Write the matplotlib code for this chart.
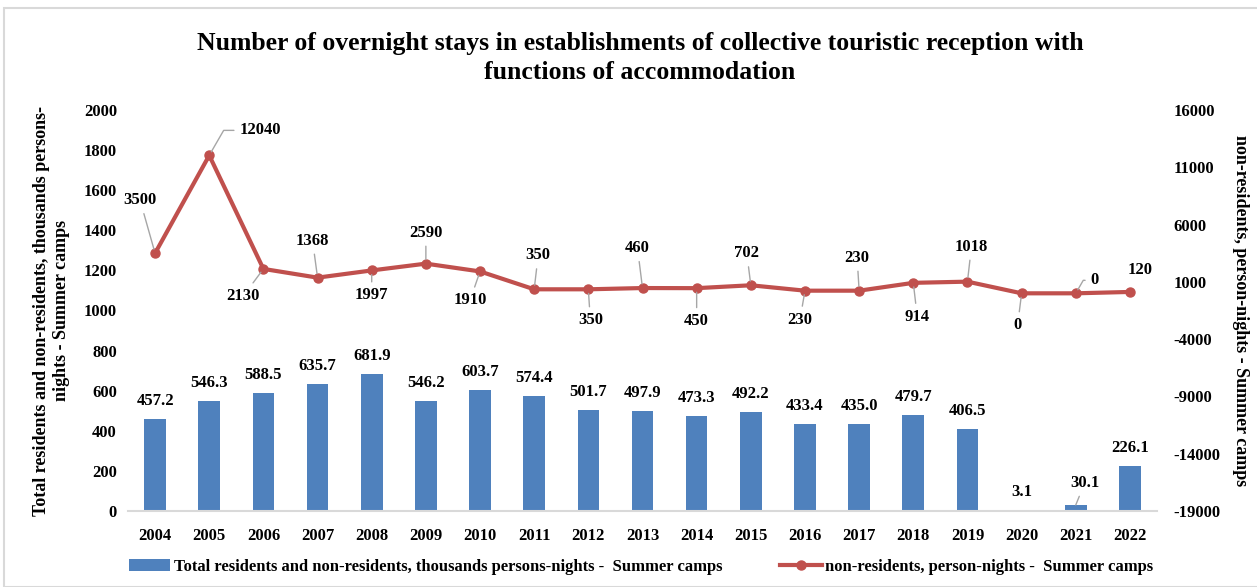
import matplotlib.pyplot as plt
import numpy as np
from matplotlib.patches import Rectangle

plt.rcParams['font.family'] = ['Liberation Serif', 'DejaVu Serif']
plt.rcParams['font.weight'] = 'bold'
plt.rcParams['axes.unicode_minus'] = False

years = [str(y) for y in range(2004, 2023)]
totals = [457.2, 546.3, 588.5, 635.7, 681.9, 546.2, 603.7, 574.4, 501.7, 497.9,
          473.3, 492.2, 433.4, 435.0, 479.7, 406.5, 3.1, 30.1, 226.1]
nonres = [3500, 12040, 2130, 1368, 1997, 2590, 1910, 350, 350, 460,
          450, 702, 230, 230, 914, 1018, 0, 0, 120]

# label offsets in pixels (dx, dy) for the line labels
line_off = [(-15, 53), (51, 25), (-20, -27), (-5, 37), (0, -25), (0, 31), (-10, -29),
            (4, 34), (2, -31), (-5, 40), (0, -33), (-4, 32), (-5, -29), (-2, 33),
            (4, -34), (4, 35), (-4, -32), (19, 13), (10, 22)]

blue = '#4F81BD'
red = '#C0504D'
grey = '#A6A6A6'

fig = plt.figure(figsize=(12.57, 5.87), dpi=100)
fig.patches.append(Rectangle((4 / 1257, 0), 1.1, 1 - 8 / 587, transform=fig.transFigure,
                             fill=False, edgecolor='#D9D9D9', lw=1.5, zorder=0))

ax = fig.add_axes([128 / 1257, 1 - 511 / 587, 1029 / 1257, 401 / 587])
x = np.arange(len(years))
bars = ax.bar(x, totals, width=0.4, color=blue, zorder=2,
              label='Total residents and non-residents, thousands persons-nights -  Summer camps')
ax.set_ylim(0, 2000)
ax.set_yticks(np.arange(0, 2001, 200))
ax.set_xlim(-0.5, len(years) - 0.5)
ax.set_xticks(x)
ax.set_xticklabels(years)
for s in ['top', 'right', 'left']:
    ax.spines[s].set_visible(False)
ax.spines['bottom'].set_color('#D9D9D9')
ax.spines['bottom'].set_linewidth(1.5)
ax.tick_params(axis='both', length=0, labelsize=12, pad=8)
ax.tick_params(axis='x', pad=12)
ax.set_ylabel('Total residents and non-residents, thousands persons-\nnights - Summer camps',
              fontsize=13, fontweight='bold', labelpad=10)

for i, v in enumerate(totals):
    if i == 17:
        ax.annotate('%.1f' % v, (x[i], v), xytext=(9, 22), textcoords='offset pixels',
                    ha='center', va='center', fontsize=12, fontweight='bold',
                    arrowprops=dict(arrowstyle='-', color=grey, lw=1, shrinkA=2, shrinkB=0))
    else:
        ax.annotate('%.1f' % v, (x[i], v), xytext=(0, 10), textcoords='offset pixels',
                    ha='center', va='bottom', fontsize=12, fontweight='bold')

ax2 = ax.twinx()
ax2.plot(x, nonres, color=red, lw=3, marker='o', markersize=6.5, zorder=3,
         label='non-residents, person-nights -  Summer camps')
ax2.set_ylim(-19000, 16000)
ax2.set_yticks(np.arange(-19000, 16001, 5000))
for s in ['top', 'right', 'left', 'bottom']:
    ax2.spines[s].set_visible(False)
ax2.tick_params(axis='y', length=0, labelsize=12, pad=12)
ax2.set_ylabel('non-residents, person-nights - Summer camps', fontsize=13,
               fontweight='bold', rotation=270, labelpad=20)

for i, v in enumerate(nonres):
    dx, dy = line_off[i]
    if i == 18:
        ax2.annotate(str(v), (x[i], v), xytext=(dx, dy), textcoords='offset pixels',
                     ha='center', va='center', fontsize=12, fontweight='bold')
    elif i in (1, 17):
        ax2.annotate(str(v), (x[i], v), xytext=(dx, dy), textcoords='offset pixels',
                     ha='center', va='center', fontsize=12, fontweight='bold',
                     arrowprops=dict(arrowstyle='-', color=grey, lw=1, shrinkA=2, shrinkB=3,
                                     connectionstyle='angle,angleA=0,angleB=60,rad=0'))
    else:
        ax2.annotate(str(v), (x[i], v), xytext=(dx, dy), textcoords='offset pixels',
                     ha='center', va='center', fontsize=12, fontweight='bold',
                     arrowprops=dict(arrowstyle='-', color=grey, lw=1, shrinkA=2, shrinkB=3))

fig.suptitle('Number of overnight stays in establishments of collective touristic reception with\n'
             'functions of accommodation', x=0.509, y=0.945, va='top', fontsize=18.5,
             fontweight='bold', linespacing=1.3)

h1, l1 = ax.get_legend_handles_labels()
h2, l2 = ax2.get_legend_handles_labels()
fig.legend(h1 + h2, l1 + l2, loc='center', bbox_to_anchor=(0.51, 0.034), ncol=2,
           frameon=False, fontsize=12, columnspacing=3.5, handlelength=2.5, handletextpad=0.2)

fig.savefig('out.png', dpi=100)
